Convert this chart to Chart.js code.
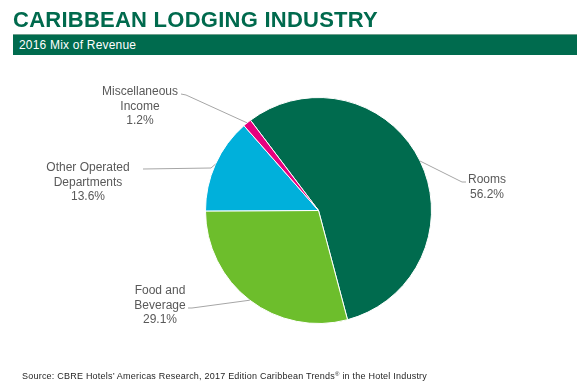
<!DOCTYPE html>
<html>
<head>
<meta charset="utf-8">
<script src="https://cdn.jsdelivr.net/npm/chart.js@4/dist/chart.umd.min.js"></script>
<style>
  html, body { margin: 0; padding: 0; background: #fff; }
  #wrap { position: relative; width: 579px; height: 385px; overflow: hidden; background: #fff; font-family: "Liberation Sans", Arial, sans-serif; }
  #title { position: absolute; left: 13px; top: 9px; font-size: 22px; line-height: 22px; font-weight: bold; color: #006A4D; white-space: nowrap; letter-spacing: 0.25px; }
  #banner { position: absolute; left: 13px; top: 34px; width: 564px; height: 21px; background: #006B4E; border-top: 1px solid #6f9f8c; box-sizing: border-box; }
  #subtitle { position: absolute; left: 19px; top: 39px; font-size: 12px; line-height: 12px; color: #fff; white-space: nowrap; letter-spacing: 0.2px; }
  #source { position: absolute; left: 22px; top: 372px; font-size: 9px; line-height: 9px; color: #262626; white-space: nowrap; letter-spacing: 0.22px; }
  #source sup { font-size: 6px; vertical-align: 3px; line-height: 0; }
  canvas { position: absolute; left: 0; top: 0; }
</style>
</head>
<body>
<div id="wrap">
  <canvas id="c" width="579" height="385"></canvas>
  <div id="title">CARIBBEAN LODGING INDUSTRY</div>
  <div id="banner"></div>
  <div id="subtitle">2016 Mix of Revenue</div>
  <div id="source">Source: CBRE Hotels’ Americas Research, 2017 Edition Caribbean Trends<sup>®</sup> in the Hotel Industry</div>
</div>
<script>
// ---- data ----
const categories = ['Rooms', 'Food and Beverage', 'Other Operated Departments', 'Miscellaneous Income'];
const labelLines = [['Rooms'], ['Food and', 'Beverage'], ['Other Operated', 'Departments'], ['Miscellaneous', 'Income']];
const values = [56.2, 29.1, 13.6, 1.2];

// ---- style / layout (not data) ----
const colors = ['#006B4E', '#6DBE2C', '#00B0DB', '#E6007E'];
// label text centre x, first baseline y, and leader path from label side to slice edge
const labelLayout = [
  { cx: 487, by: 183, leader: [[466, 182], [462, 182]] },
  { cx: 160, by: 294, leader: [[188, 308], [192, 308]] },
  { cx: 88,  by: 171, leader: [[143, 169], [211, 168]] },
  { cx: 140, by: 95,  leader: [[181, 94], [186, 95]] }
];

const labelPlugin = {
  id: 'pieLabels',
  afterDraw(chart) {
    const ctx = chart.ctx;
    const meta = chart.getDatasetMeta(0);
    ctx.save();
    meta.data.forEach((arc, i) => {
      const p = arc.getProps(['x', 'y', 'startAngle', 'endAngle', 'outerRadius'], true);
      const mid = (p.startAngle + p.endAngle) / 2;
      const ax = p.x + Math.cos(mid) * p.outerRadius;
      const ay = p.y + Math.sin(mid) * p.outerRadius;
      const L = labelLayout[i];
      ctx.strokeStyle = '#A6A6A6';
      ctx.lineWidth = 1;
      ctx.beginPath();
      ctx.moveTo(L.leader[0][0], L.leader[0][1]);
      for (let k = 1; k < L.leader.length; k++) ctx.lineTo(L.leader[k][0], L.leader[k][1]);
      ctx.lineTo(ax, ay);
      ctx.stroke();
      ctx.fillStyle = '#595959';
      ctx.font = '12px "Liberation Sans", Arial, sans-serif';
      ctx.textAlign = 'center';
      ctx.textBaseline = 'alphabetic';
      const lines = labelLines[i].concat([values[i].toFixed(1) + '%']);
      lines.forEach((t, j) => ctx.fillText(t, L.cx, L.by + j * 14.5));
    });
    ctx.restore();
  }
};

new Chart(document.getElementById('c'), {
  type: 'pie',
  data: {
    labels: categories,
    datasets: [{
      data: values,
      backgroundColor: colors,
      borderColor: '#ffffff',
      borderWidth: 1
    }]
  },
  options: {
    responsive: false,
    animation: false,
    devicePixelRatio: 1,
    rotation: -37,
    layout: { padding: { left: 205, right: 147, top: 97, bottom: 61 } },
    plugins: { legend: { display: false }, tooltip: { enabled: false } },
    events: []
  },
  plugins: [labelPlugin]
});
</script>
</body>
</html>
